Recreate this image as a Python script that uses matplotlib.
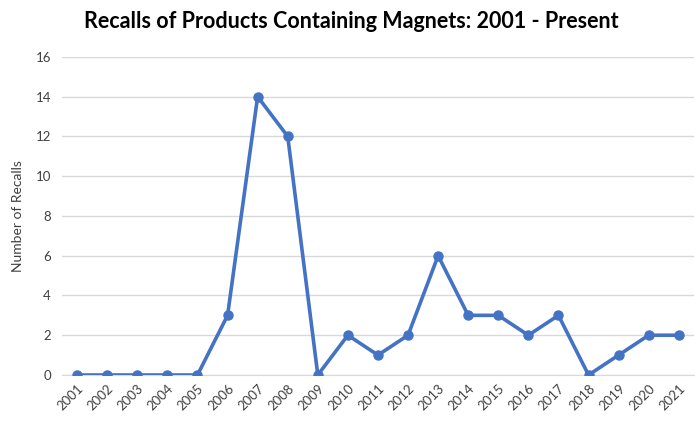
import matplotlib.pyplot as plt

years = ['2001', '2002', '2003', '2004', '2005', '2006', '2007', '2008', '2009', '2010',
         '2011', '2012', '2013', '2014', '2015', '2016', '2017', '2018', '2019', '2020', '2021']
recalls = [0, 0, 0, 0, 0, 3, 14, 12, 0, 2, 1, 2, 6, 3, 3, 2, 3, 0, 1, 2, 2]
y_ticks = [0, 2, 4, 6, 8, 10, 12, 14, 16]

plt.rcParams['font.family'] = ['Lato', 'DejaVu Sans']

fig = plt.figure(figsize=(6.98, 4.23), dpi=100)
ax = fig.add_axes([0.089, 0.1135, 0.905, 0.752])

x = list(range(len(years)))
ax.plot(x, recalls, color='#4472C4', linewidth=2.6, marker='o', markersize=6.5, zorder=3)

ax.set_xlim(-0.5, len(years) - 0.5)
ax.set_ylim(0, 16)
ax.set_yticks(y_ticks)
ax.set_xticks(x)
ax.set_xticklabels(years, rotation=45, ha='right', rotation_mode='anchor',
                   fontsize=9.5, color='#404040')
ax.tick_params(axis='y', labelsize=9.5, colors='#404040', length=0, pad=8)
ax.tick_params(axis='x', length=0, pad=5)
ax.yaxis.grid(True, color='#D9D9D9', linewidth=1)
ax.set_axisbelow(True)
for s in ['top', 'right', 'left']:
    ax.spines[s].set_visible(False)
ax.spines['bottom'].set_color('#D9D9D9')

ax.set_ylabel('Number of Recalls', fontsize=10, color='#404040', labelpad=8)
fig.suptitle('Recalls of Products Containing Magnets: 2001 - Present',
             fontsize=15.5, fontweight='bold', x=0.503, y=0.975)

plt.savefig('out.png', dpi=100)
